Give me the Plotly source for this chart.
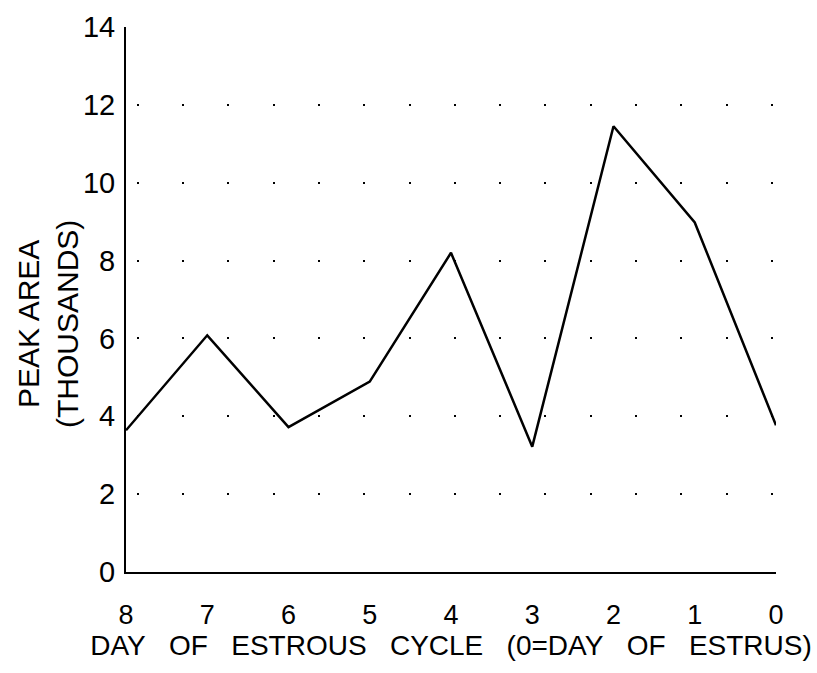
import plotly.graph_objects as go

# day of estrous cycle (0 = day of estrus) and peak area in thousands
days = [8, 7, 6, 5, 4, 3, 2, 1, 0]
peak_area = [3.64, 6.08, 3.72, 4.89, 8.2, 3.22, 11.45, 8.98, 3.77]
y_ticks = [0, 2, 4, 6, 8, 10, 12, 14]

FONT = "Liberation Sans, Arial, sans-serif"
GAP = "\u00a0\u00a0 "

fig = go.Figure()
fig.add_trace(go.Scatter(x=days, y=peak_area, mode="lines",
                         line=dict(color="black", width=2.5),
                         showlegend=False, hoverinfo="skip"))

fig.update_layout(
    width=817, height=673,
    margin=dict(l=126, r=41, t=11, b=101),
    paper_bgcolor="white", plot_bgcolor="white",
    font=dict(family=FONT, color="black"),
    showlegend=False,
)
fig.update_xaxes(
    range=[8, 0], tickvals=days, ticktext=[str(d) for d in days],
    tickfont=dict(size=27), ticks="", ticklabelstandoff=18,
    ticklabeloverflow="allow",
    showline=True, linecolor="black", linewidth=2,
    showgrid=False, zeroline=False,
    title=dict(text=GAP.join("DAY OF ESTROUS CYCLE (0=DAY OF ESTRUS)".split(" ")),
               font=dict(size=28), standoff=1),
)
fig.update_yaxes(
    range=[0, 14], tickvals=y_ticks, ticks="",
    tickfont=dict(size=29), ticklabelstandoff=3,
    ticklabeloverflow="allow",
    showline=True, linecolor="black", linewidth=2,
    showgrid=True, gridcolor="black", gridwidth=2,
    griddash="0px,10.7px,2px,32.6px",
    zeroline=False,
)
fig.add_annotation(text="PEAK AREA<br>(THOUSANDS)", textangle=-90,
                   xref="paper", yref="paper", x=-0.12, y=0.455,
                   xanchor="center", yanchor="middle", showarrow=False,
                   font=dict(size=30), align="center")

# page has a default 8px body margin; drop it so the figure sits at 0,0
fig.write_html("out.html", config={"displayModeBar": False},
               post_script="document.body.style.margin='0';")
